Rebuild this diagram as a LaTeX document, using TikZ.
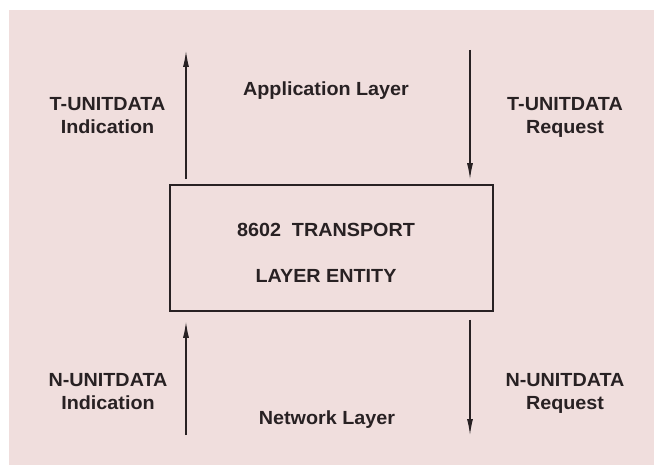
\documentclass[tikz,border=0pt]{standalone}
\usepackage{fontspec}
\setmainfont[FakeStretch=1.04]{Liberation Sans}
\usetikzlibrary{arrows.meta,positioning}
\definecolor{paper}{RGB}{240,222,221}
\definecolor{ink}{RGB}{40,33,35}
\tikzset{
  >={Latex[length=16pt,width=6pt]},
  entity/.style={draw=ink,line width=1.6pt,minimum width=323pt,minimum height=126pt,inner sep=0pt},
  tag/.style={text=ink,font=\fontsize{19}{23}\selectfont\bfseries,align=center,inner sep=0pt,anchor=north},
  flow/.style={->,draw=ink,line width=1.1pt},
}
\begin{document}
\begin{tikzpicture}[x=1pt,y=-1pt]
  \useasboundingbox (0,0) rectangle (654,465);
  \fill[paper] (9,10) rectangle (654,465);
  % transport entity
  \node[entity] (entity) at (331.5,248) {};
  \node[tag] (core) at (326,223.2) {8602\ \ TRANSPORT\\[23pt]LAYER ENTITY};
  % layers and primitives
  \node[tag] (app) at (326,81.2) {Application Layer};
  \node[tag] (net) at (327,410.2) {Network Layer};
  \node[tag] (tind label) at (107.5,97.2) {T-UNITDATA\\Indication};
  \node[tag] (treq label) at (565,97.2) {T-UNITDATA\\Request};
  \node[tag] (nind label) at (108,373.2) {N-UNITDATA\\Indication};
  \node[tag] (nreq label) at (565,373.2) {N-UNITDATA\\Request};
  \coordinate (tind) at (186,51);
  \coordinate (treq) at (470,50);
  \coordinate (nind) at (186,435);
  \coordinate (nreq) at (470,435);
  \draw[flow,shorten <=5pt] (entity.north west -| tind) -- (tind);
  \draw[flow,shorten >=5pt] (treq) -- (entity.north west -| treq);
  \draw[flow,shorten >=10pt] (nind) -- (entity.south west -| nind);
  \draw[flow,shorten <=8pt] (entity.south west -| nreq) -- (nreq);
\end{tikzpicture}
\end{document}
